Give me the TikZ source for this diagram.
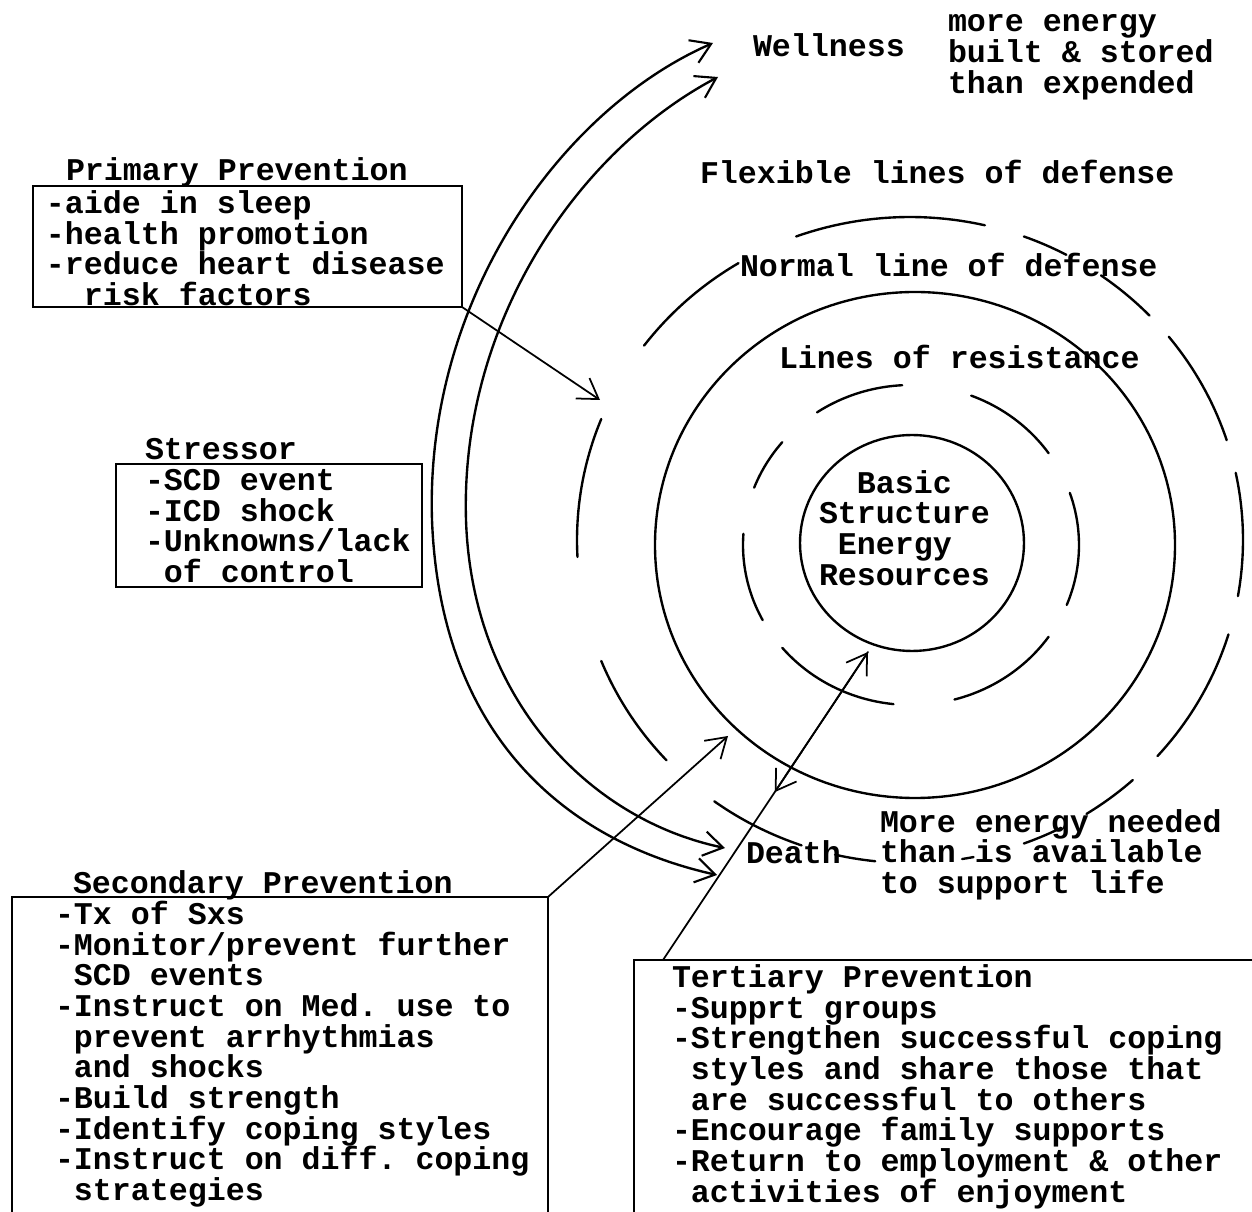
\documentclass[tikz,border=0pt]{standalone}
\usepackage{fontspec}
\setmainfont{Liberation Mono}
\usetikzlibrary{arrows.meta,fit,calc,shapes.geometric}
\newcommand\fst{\rule{0pt}{13pt}}
\frenchspacing
\begin{document}
\begin{tikzpicture}[x=0.02cm,y=-0.02cm,
  txt/.style={font=\bfseries\fontsize{18pt}{17.45pt}\selectfont, inner sep=0pt, outer sep=0pt, align=left},
  ring/.style={line width=1.35pt, line cap=round},
  boxsty/.style={draw, line width=0.9pt, inner sep=0pt, outer sep=0pt},
  arr/.style={line width=1pt, line cap=round, -{Straight Barb[length=11pt,width=14pt,line width=1pt]}},
  darr/.style={line width=1.35pt, {Straight Barb[length=11pt,width=14pt,line width=1.2pt]}-{Straight Barb[length=11pt,width=14pt,line width=1.2pt]}}
]
\useasboundingbox (0,0) rectangle (1252,1212);
\fill[white] (0,0) rectangle (1252,1212);
\clip (0,0) rectangle (1252,1212);

% rings
\node[draw, ellipse, line width=1.35pt, minimum width=4.48cm, minimum height=4.32cm, inner sep=0pt] (core) at (912,543) {};
\draw[ring] (915,545) ellipse [x radius=260, y radius=253];
\foreach \a/\b in {93/124, 35/69, -22/19, -75/-35, -140/-96, 176/208, 140/159}
  \draw[ring] plot[domain=\a:\b, samples=25] ({911+168*cos(\x)},{545-160*sin(\x)});
\foreach \a/\b in {77/110, 62/70, 44/55, 18/39, -10/12, -42/-17, -58/-48, -70/-63, -81/-79, -103/-96, -126/-109, -158/-137, 158/183, 121/143}
  \draw[ring] plot[domain=\a:\b, samples=25] ({910+333*cos(\x)},{540-323*sin(\x)});

% texts
\node[txt, anchor=base west] (wel) at (753,57) {Wellness};
\node[txt, anchor=north west] (more) at (948,9) {\fst more energy\\built \& stored\\than expended};
\node[txt, anchor=base west] (flex) at (700,184) {Flexible lines of defense};
\node[txt, anchor=base west] (norm) at (740,277) {Normal line of defense};
\node[txt, anchor=base west] (lres) at (779,369) {Lines of resistance};
\node[txt, anchor=north west] (bas) at (819,470.15) {\fst\phantom{xx}Basic\\Structure\\\phantom{x}Energy\\Resources};
\node[txt, anchor=base west] (death) at (746,864) {Death};
\node[txt, anchor=north west] (need) at (880,809.15) {\fst More energy needed\\than is available\\to support life};

% primary
\node[boxsty, fit={(33,186) (462,307)}] (pbox) {};
\node[txt, anchor=base west] (ptitle) at (66,181) {Primary Prevention};
\node[txt, anchor=north west] (plist) at (46,190.65) {\fst-aide in sleep\\-health promotion\\-reduce heart disease\\\phantom{xx}risk factors};

% stressor
\node[boxsty, fit={(116,464) (422,587)}] (stbox) {};
\node[txt, anchor=base west] (sttitle) at (145,460) {Stressor};
\node[txt, anchor=north west] (stlist) at (145,467.65) {\fst-SCD event\\-ICD shock\\-Unknowns/lack\\\phantom{x}of control};

% secondary
\node[boxsty, fit={(12,897) (548,1240)}] (sbox) {};
\node[txt, anchor=base west] (stitle) at (73,894) {Secondary Prevention};
\node[txt, anchor=north west] (slist) at (55,901.15) {\fst-Tx of Sxs\\-Monitor/prevent further\\\phantom{x}SCD events\\-Instruct on Med. use to\\\phantom{x}prevent arrhythmias\\\phantom{x}and shocks\\-Build strength\\-Identify coping styles\\-Instruct on diff. coping\\\phantom{x}strategies};

% tertiary
\node[boxsty, fit={(634,960) (1290,1240)}] (tbox) {};
\node[txt, anchor=north west] (tlist) at (672,964.65) {\fst Tertiary Prevention\\-Supprt groups\\-Strengthen successful coping\\\phantom{x}styles and share those that\\\phantom{x}are successful to others\\-Encourage family supports\\-Return to employment \& other\\\phantom{x}activities of enjoyment};

% connectors
\coordinate (ptip) at (600,400);
\draw[arr] (pbox.south east) -- (ptip);
\coordinate (stip) at (728,736);
\draw[arr] (sbox.north east) -- (stip);
\coordinate (tstart) at (663,960);
\coordinate (ctip) at (868,652);
\draw[arr] (tstart) -- (ctip);
\draw[arr] (ctip) -- ($(tstart)!0.545!(ctip)$);

% wellness / death curves
\coordinate (wA) at (713,43);
\coordinate (wB) at (718,77);
\coordinate (dA) at (717,875);
\coordinate (dB) at (725,848);
\draw[darr] (dA) .. controls (560,840) and (440,730) .. (432,520)
                 .. controls (425,300) and (560,110) .. (wA);
\draw[darr] (dB) .. controls (590,820) and (472,700) .. (466,520)
                 .. controls (460,320) and (580,150) .. (wB);
\end{tikzpicture}
\end{document}
